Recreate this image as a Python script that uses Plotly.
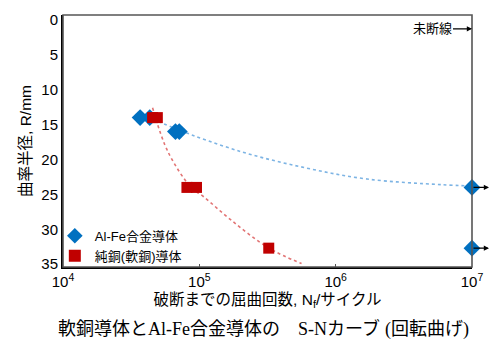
import plotly.graph_objects as go

# Data
alfe_N = [36800, 43300, 66800, 71300, 1e7, 1e7]
alfe_R = [14, 14, 16, 16, 24, 32.7]
cu_N = [45400, 49200, 81100, 95300, 323000]
cu_R = [14, 14, 24, 24, 32.7]

# fitted S-N trend curves
alfe_fit_N = [45700, 69200, 204000, 603000, 1.70e6, 5.89e6, 1e7]
alfe_fit_R = [14.2, 15.7, 18.9, 21.2, 22.8, 23.6, 23.8]
cu_fit_N = [45400, 58900, 87100, 107000, 174000, 324000, 562000]
cu_fit_R = [12.6, 18.9, 24.0, 25.3, 28.8, 32.7, 34.9]

runout_N = [1e7, 1e7]
runout_R = [24, 32.7]

xtick_vals = [1e4, 1e5, 1e6, 1e7]
xtick_text = ["10<sup>4</sup>", "10<sup>5</sup>", "10<sup>6</sup>", "10<sup>7</sup>"]
ytick_vals = [0, 5, 10, 15, 20, 25, 30, 35]

FONT = "Arial, Liberation Sans, Noto Sans CJK JP"
BLUE = "#0070c0"
RED = "#c00000"

fig = go.Figure()
fig.add_trace(go.Scatter(x=alfe_fit_N, y=alfe_fit_R, mode="lines", line=dict(color="#7db4e4", width=1.6, dash="dot", shape="spline"),
                         showlegend=False, hoverinfo="skip"))
fig.add_trace(go.Scatter(x=cu_fit_N, y=cu_fit_R, mode="lines", line=dict(color="#e27474", width=1.6, dash="dot", shape="spline"),
                         showlegend=False, hoverinfo="skip"))
fig.add_trace(go.Scatter(x=alfe_N, y=alfe_R, mode="markers", name="Al-Fe合金導体",
                         marker=dict(symbol="diamond", size=13, color=BLUE), cliponaxis=False))
fig.add_trace(go.Scatter(x=cu_N, y=cu_R, mode="markers", name="純銅(軟銅)導体",
                         marker=dict(symbol="square", size=11, color=RED), cliponaxis=False))

# run-out arrows
for n, r in zip(runout_N, runout_R):
    fig.add_annotation(x=7, y=r, xref="x", yref="y", text="",
                       showarrow=True, arrowhead=2, arrowsize=0.8, arrowwidth=1.3, arrowcolor="black",
                       ax=-17, ay=0, xshift=17)

fig.add_annotation(x=1, y=0.945, xref="paper", yref="paper", text="未断線",
                   showarrow=True, arrowhead=2, arrowsize=0.8, arrowwidth=1.3, arrowcolor="black",
                   ax=-40, ay=0, font=dict(size=13, color="black", family=FONT))

fig.add_annotation(x=0.49, y=-0.245, xref="paper", yref="paper", yanchor="middle", showarrow=False,
                   text=("軟銅導体と<span style=\"font-family:'Liberation Serif'\">Al-Fe</span>合金導体の　"
                         "<span style=\"font-family:'Liberation Serif'\">S-N</span>カーブ "
                         "<span style=\"font-family:'Liberation Serif'\">(</span>回転曲げ"
                         "<span style=\"font-family:'Liberation Serif'\">)</span>"),
                   font=dict(size=18, color="black", family=FONT))

# frame (top/right grey)
fig.add_shape(type="rect", xref="paper", yref="paper", x0=0, x1=1, y0=0, y1=1,
              line=dict(color="#555555", width=1.6), layer="above")

fig.update_layout(
    width=501, height=340,
    margin=dict(l=63, r=29, t=11, b=73),
    paper_bgcolor="white", plot_bgcolor="white",
    font=dict(family=FONT, color="black"),
    showlegend=True,
    legend=dict(x=-0.02, y=-0.015, xanchor="left", yanchor="bottom", bgcolor="rgba(0,0,0,0)",
                font=dict(size=13, family=FONT), itemwidth=30, tracegroupgap=0, itemsizing="constant"),
    xaxis=dict(type="log", range=[4, 7], tickvals=xtick_vals, ticktext=xtick_text,
               showgrid=False, zeroline=False, showline=True, linecolor="black", linewidth=2,
               ticks="inside", ticklen=3, tickcolor="#555", tickfont=dict(size=15),
               title=dict(text="破断までの屈曲回数, N<sub>f</sub>/サイクル", font=dict(size=15.5), standoff=5)),
    yaxis=dict(range=[35.4, -0.7], tickvals=ytick_vals, showgrid=False, zeroline=False,
               showline=True, linecolor="black", linewidth=2, ticks="", tickfont=dict(size=15),
               title=dict(text="曲率半径, R/mm", font=dict(size=15.5), standoff=6)),
)

fig.write_html("out.html")
